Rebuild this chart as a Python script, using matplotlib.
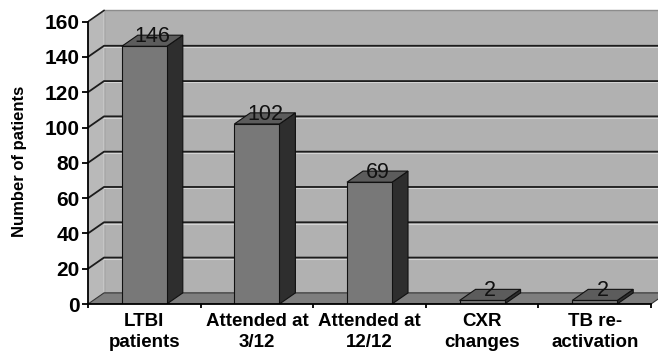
import numpy as np
import matplotlib.pyplot as plt
from matplotlib.patches import Polygon

categories = ['LTBI\npatients', 'Attended at\n3/12', 'Attended at\n12/12',
              'CXR\nchanges', 'TB re-\nactivation']
patients = [146, 102, 69, 2, 2]
yticks = [0, 20, 40, 60, 80, 100, 120, 140, 160]

plt.rcParams['font.family'] = ['Liberation Sans', 'DejaVu Sans']

W, H = 658, 354
fig = plt.figure(figsize=(W / 100, H / 100), dpi=100)

n = len(categories)
ymax = yticks[-1]
dx, dy = 0.142, 6.3      # depth of the 3-D box (category units, patient units)
bw = 0.40                # bar width
px_x, px_y = 112.6, 1.765  # pixels per category / per patient
xr = 570 / px_x
yt = ymax + dy + 1.2
ax = fig.add_axes([88 / W, 50 / H, xr * px_x / W, yt * px_y / H])
ax.set_xlim(0, xr)
ax.set_ylim(0, yt)
ax.patch.set_visible(False)

# walls and floor
ax.add_patch(Polygon([(dx, dy), (n + dx, dy), (n + dx, ymax + dy), (dx, ymax + dy)],
                     closed=True, fc='#b1b1b1', ec='#8c8c8c', lw=1.0, zorder=0))
ax.add_patch(Polygon([(0, 0), (dx, dy), (dx, ymax + dy), (0, ymax)],
                     closed=True, fc='#b9b9b9', ec='#cfcfcf', lw=0.8, zorder=0))
ax.plot([0, dx], [ymax, ymax + dy], color='#222222', lw=1.2, zorder=1)
ax.add_patch(Polygon([(0, 0), (n, 0), (n + dx, dy), (dx, dy)],
                     closed=True, fc='#7e7e7e', ec='#333333', lw=0.8, zorder=1))

# gridlines on back and side wall
for v in yticks[1:-1]:
    ax.plot([dx, n + dx], [v + dy - 0.7] * 2, color='#d4d4d4', lw=0.8, zorder=1)
    ax.plot([0, dx, n + dx], [v, v + dy, v + dy], color='#1c1c1c', lw=1.3, zorder=1)

# bars
for i, v in enumerate(patients):
    xa, xb = i + 0.5 - bw / 2, i + 0.5 + bw / 2
    ax.add_patch(Polygon([(xb, 0), (xb + dx, dy), (xb + dx, v + dy), (xb, v)],
                         closed=True, fc='#2e2e2e', ec='#111111', lw=0.8, zorder=3))
    ax.add_patch(Polygon([(xa, v), (xb, v), (xb + dx, v + dy), (xa + dx, v + dy)],
                         closed=True, fc='#5c5c5c', ec='#111111', lw=0.8, zorder=3))
    ax.add_patch(Polygon([(xa, 0), (xb, 0), (xb, v), (xa, v)],
                         closed=True, fc='#787878', ec='#111111', lw=0.8, zorder=4))
    ax.text(i + 0.5 + dx / 2, v + dy / 2 + 2.3, str(v), ha='center', va='center',
            fontsize=15.5, color='#111111', zorder=5)

for s in ['top', 'right']:
    ax.spines[s].set_visible(False)
ax.spines['left'].set_bounds(0, ymax)
ax.spines['bottom'].set_bounds(0, n)
for s in ['left', 'bottom']:
    ax.spines[s].set_linewidth(1.3)
    ax.spines[s].set_zorder(6)

ax.set_yticks(yticks)
ax.set_yticklabels([str(t) for t in yticks], fontsize=15, fontweight='bold')
ax.tick_params(axis='y', length=4.5, width=1.3, pad=1.5)

ax.set_xticks(np.arange(n + 1))
ax.set_xticklabels([])
ax.tick_params(axis='x', which='major', length=3, width=1.3)
ax.set_xticks(np.arange(n) + 0.5, minor=True)
ax.set_xticklabels(categories, minor=True, fontsize=13.5, fontweight='bold',
                   linespacing=1.3)
ax.tick_params(axis='x', which='minor', length=0, pad=6.5)

fig.text(20 / W, 1 - 161 / H, 'Number of patients', rotation=90, ha='center',
         va='center', fontsize=12, fontweight='bold')

fig.savefig('out.png', dpi=100)
